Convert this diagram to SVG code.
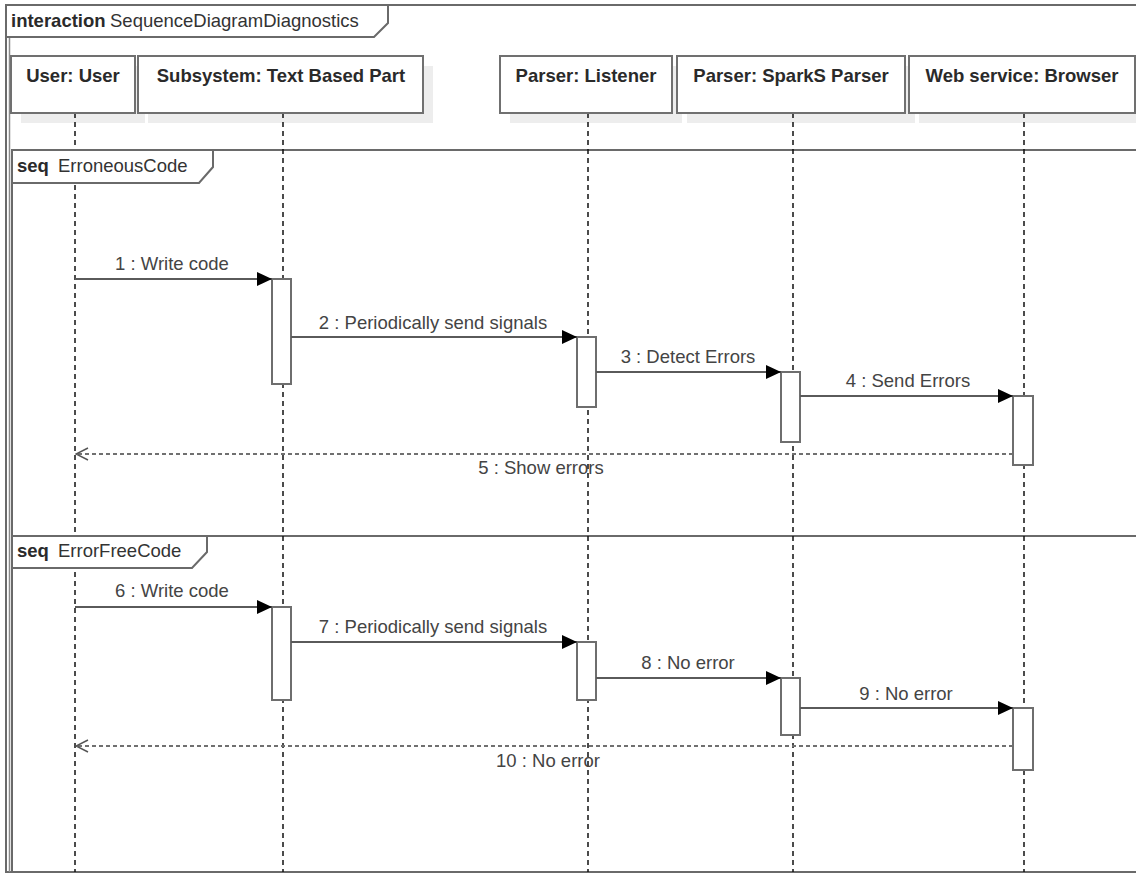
<svg xmlns="http://www.w3.org/2000/svg" width="1136" height="874" viewBox="0 0 1136 874">
  <style>
    text { font-family: "Liberation Sans", Arial, sans-serif; font-size: 18.5px; fill: #333; }
    .b { font-weight: bold; fill: #2a2a2a; }
    .lbl { text-anchor: middle; fill: #444; }
    .pl { text-anchor: middle; font-weight: bold; fill: #2a2a2a; }
    .frame { fill: none; stroke: #6a6a6a; stroke-width: 2; }
    .tab { fill: #fff; stroke: #6a6a6a; stroke-width: 2; }
    .box { fill: #fff; stroke: #707070; stroke-width: 2; }
    .shadow { fill: #ededed; }
    .life { stroke: #111; stroke-width: 1.5; stroke-dasharray: 5 4; fill: none; }
    .act { fill: #fff; stroke: #6e6e6e; stroke-width: 2; }
    .msg { stroke: #5a5a5a; stroke-width: 2; fill: none; marker-end: url(#solid); }
    .ret { stroke: #707070; stroke-width: 2; stroke-dasharray: 4 3; fill: none; marker-end: url(#open); }
  </style>
  <defs>
    <marker id="solid" markerUnits="userSpaceOnUse" markerWidth="15" markerHeight="14" refX="15" refY="7" orient="auto">
      <path d="M0,0 L15,7 L0,14 Z" fill="#000"/>
    </marker>
    <marker id="open" markerUnits="userSpaceOnUse" markerWidth="14" markerHeight="14" refX="13" refY="7" orient="auto">
      <path d="M1,1 L13,7 L1,13" fill="none" stroke="#555" stroke-width="1.5"/>
    </marker>
  </defs>

  <rect width="1136" height="874" fill="#fff"/>

  <!-- outer interaction frame -->
  <g id="interaction-frame">
    <path class="frame" d="M1140,5 H6 V872 H1140"/>
    <line x1="9.5" y1="37" x2="9.5" y2="872" stroke="#8a8a8a" stroke-width="1.5"/>
  </g>

  <!-- combined fragments -->
  <g id="fragment-erroneous">
    <rect class="frame" x="12" y="150" width="1130" height="386" stroke-width="2.5"/>
  </g>
  <g id="fragment-errorfree">
    <rect class="frame" x="12" y="536" width="1130" height="336" stroke-width="2.5"/>
  </g>

  <!-- participant shadows -->
  <g id="shadows">
    <rect class="shadow" x="21" y="66" width="124" height="57"/>
    <rect class="shadow" x="148" y="66" width="285" height="57"/>
    <rect class="shadow" x="510" y="66" width="172" height="57"/>
    <rect class="shadow" x="687" y="66" width="228" height="57"/>
    <rect class="shadow" x="919" y="66" width="226" height="57"/>
  </g>

  <!-- lifelines -->
  <g id="lifelines">
    <line class="life" x1="75" y1="113" x2="75" y2="872"/>
    <line class="life" x1="283" y1="113" x2="283" y2="872"/>
    <line class="life" x1="588" y1="113" x2="588" y2="872"/>
    <line class="life" x1="793" y1="113" x2="793" y2="872"/>
    <line class="life" x1="1024" y1="113" x2="1024" y2="872"/>
  </g>

  <!-- participants -->
  <g id="user">
    <rect class="box" x="11" y="56" width="124" height="57"/>
    <text class="pl" x="73" y="82">User: User</text>
  </g>
  <g id="subsystem">
    <rect class="box" x="138" y="56" width="285" height="57"/>
    <text class="pl" x="281" y="82">Subsystem: Text Based Part</text>
  </g>
  <g id="listener">
    <rect class="box" x="500" y="56" width="172" height="57"/>
    <text class="pl" x="586" y="82">Parser: Listener</text>
  </g>
  <g id="sparks-parser">
    <rect class="box" x="677" y="56" width="228" height="57"/>
    <text class="pl" x="791" y="82">Parser: SparkS Parser</text>
  </g>
  <g id="browser">
    <rect class="box" x="909" y="56" width="226" height="57"/>
    <text class="pl" x="1022" y="82">Web service: Browser</text>
  </g>

  <!-- frame tabs -->
  <g id="interaction-tab">
    <path class="tab" d="M6,5 H388 V23 L374,37 H6 Z"/>
    <text class="b" x="11" y="27">interaction</text>
    <text x="110" y="27">SequenceDiagramDiagnostics</text>
  </g>
  <g id="erroneous-tab">
    <path class="tab" d="M12,150 H213 V167 L199,183 H12 Z"/>
    <text class="b" x="17" y="172">seq</text>
    <text x="58" y="172">ErroneousCode</text>
  </g>
  <g id="errorfree-tab">
    <path class="tab" d="M12,536 H207 V552 L192,568 H12 Z"/>
    <text class="b" x="17" y="557">seq</text>
    <text x="58" y="557">ErrorFreeCode</text>
  </g>

  <!-- activation bars -->
  <g id="activations">
    <rect class="act" x="272" y="279" width="19" height="105"/>
    <rect class="act" x="577" y="337" width="19" height="70"/>
    <rect class="act" x="781" y="372" width="19" height="70"/>
    <rect class="act" x="1013" y="396" width="20" height="69"/>
    <rect class="act" x="272" y="607" width="19" height="93"/>
    <rect class="act" x="577" y="642" width="19" height="58"/>
    <rect class="act" x="781" y="678" width="19" height="57"/>
    <rect class="act" x="1013" y="708" width="20" height="62"/>
  </g>

  <!-- messages -->
  <g id="connectors">
    <line class="msg" x1="75" y1="279" x2="272" y2="279"/>
    <line class="msg" x1="291" y1="337" x2="577" y2="337"/>
    <line class="msg" x1="596" y1="372" x2="781" y2="372"/>
    <line class="msg" x1="800" y1="396" x2="1013" y2="396"/>
    <line class="ret" x1="1013" y1="454" x2="76" y2="454"/>
    <line class="msg" x1="75" y1="607" x2="272" y2="607"/>
    <line class="msg" x1="291" y1="642" x2="577" y2="642"/>
    <line class="msg" x1="596" y1="678" x2="781" y2="678"/>
    <line class="msg" x1="800" y1="708" x2="1013" y2="708"/>
    <line class="ret" x1="1013" y1="746" x2="76" y2="746"/>
  </g>

  <!-- message labels -->
  <g id="labels">
    <text class="lbl" x="172" y="270">1 : Write code</text>
    <text class="lbl" x="433" y="329">2 : Periodically send signals</text>
    <text class="lbl" x="688" y="363">3 : Detect Errors</text>
    <text class="lbl" x="908" y="387">4 : Send Errors</text>
    <text class="lbl" x="541" y="474">5 : Show errors</text>
    <text class="lbl" x="172" y="597">6 : Write code</text>
    <text class="lbl" x="433" y="633">7 : Periodically send signals</text>
    <text class="lbl" x="688" y="669">8 : No error</text>
    <text class="lbl" x="906" y="700">9 : No error</text>
    <text class="lbl" x="548" y="767">10 : No error</text>
  </g>
</svg>
